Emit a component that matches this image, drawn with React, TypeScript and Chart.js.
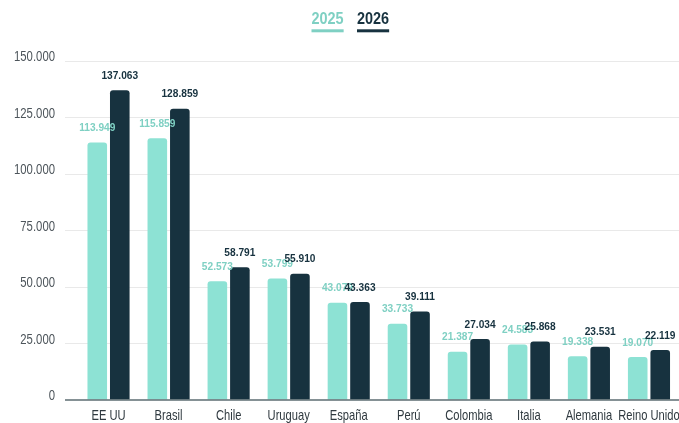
import React, { useEffect, useRef } from "react";
import { Chart, registerables } from "chart.js";

Chart.register(...registerables);

const categories = ["EE UU", "Brasil", "Chile", "Uruguay", "España", "Perú", "Colombia", "Italia", "Alemania", "Reino Unido"];
const values2025 = [113949, 115859, 52573, 53799, 43079, 33733, 21387, 24583, 19338, 19070];
const values2026 = [137063, 128859, 58791, 55910, 43363, 39111, 27034, 25868, 23531, 22119];
const seriesNames = ["2025", "2026"];
const yTicks = [0, 25000, 50000, 75000, 100000, 125000, 150000];

const TEAL = "#8de2d4";
const TEAL_TEXT = "#7fd0c3";
const NAVY = "#17323f";
const FONT = "'Liberation Sans', Arial, sans-serif";

const fmt = (v: number) => String(Math.round(v)).replace(/\B(?=(\d{3})+(?!\d))/g, ".");

function drawText(ctx: any, text: string, x: number, y: number, font: string, color: string, align: string, sx: number) {
  ctx.save();
  ctx.font = font;
  ctx.fillStyle = color;
  ctx.textBaseline = "middle";
  ctx.textAlign = align;
  ctx.translate(x, y);
  ctx.scale(sx, 1);
  ctx.fillText(text, 0, 0);
  ctx.restore();
}

const textPlugin = {
  id: "customText",
  afterDraw(chart: any) {
    const ctx = chart.ctx;
    const xs = chart.scales.x;
    const ys = chart.scales.y;
    const area = chart.chartArea;

    // baseline axis line
    ctx.save();
    ctx.strokeStyle = "#5d6c72";
    ctx.lineWidth = 1.3;
    ctx.beginPath();
    const y0 = ys.getPixelForValue(0);
    ctx.moveTo(65, y0);
    ctx.lineTo(area.right, y0);
    ctx.stroke();
    ctx.restore();

    // y tick labels
    yTicks.forEach((v) => {
      drawText(ctx, fmt(v), 55, ys.getPixelForValue(v) - 3.5, `14px ${FONT}`, "#4d555b", "right", 0.81);
    });

    // x category labels
    categories.forEach((c, i) => {
      drawText(ctx, c, xs.getPixelForValue(i), 416, `14.5px ${FONT}`, "#2f393f", "center", 0.77);
    });

    // value labels
    chart.data.datasets.forEach((ds: any, di: number) => {
      const meta = chart.getDatasetMeta(di);
      meta.data.forEach((bar: any, i: number) => {
        drawText(ctx, fmt(ds.data[i]), bar.x, bar.y - 14.5, `bold 11.3px ${FONT}`, di === 0 ? TEAL_TEXT : NAVY, "center", 0.9);
      });
    });

    // legend
    const colors = [TEAL_TEXT, NAVY];
    const starts = [311.5, 357];
    seriesNames.forEach((name, i) => {
      ctx.save();
      ctx.font = `bold 17px ${FONT}`;
      const w = ctx.measureText(name).width * 0.85;
      ctx.restore();
      drawText(ctx, name, starts[i], 19.5, `bold 17px ${FONT}`, colors[i], "left", 0.85);
      ctx.save();
      ctx.fillStyle = colors[i];
      ctx.fillRect(starts[i], 29.3, w, 3);
      ctx.restore();
    });
  },
};

export default function App() {
  const ref = useRef<HTMLCanvasElement>(null);
  useEffect(() => {
    if (!ref.current) return;
    const chart = new Chart(ref.current, {
      type: "bar",
      data: {
        labels: categories,
        datasets: [
          { label: seriesNames[0], data: values2025, backgroundColor: TEAL, borderRadius: 3, borderSkipped: "bottom" },
          { label: seriesNames[1], data: values2026, backgroundColor: NAVY, borderRadius: 3, borderSkipped: "bottom" },
        ],
      },
      options: {
        responsive: false,
        animation: false,
        layout: { padding: { top: 61, left: 0, right: 0, bottom: 0 } },
        datasets: { bar: { categoryPercentage: 0.75, barPercentage: 0.87 } },
        plugins: { legend: { display: false }, tooltip: { enabled: false }, title: { display: false } },
        scales: {
          x: {
            grid: { display: false },
            border: { display: false },
            ticks: { display: false },
            afterFit: (s: any) => { s.height = 23; },
          },
          y: {
            min: 0,
            max: 150000,
            afterBuildTicks: (s: any) => { s.ticks = yTicks.map((v) => ({ value: v })); },
            grid: { color: (c: any) => (c.tick && c.tick.value === 0 ? "rgba(0,0,0,0)" : "#e9e9e9"), tickLength: 13.5, lineWidth: 1 },
            border: { display: false },
            ticks: { display: false },
            afterFit: (s: any) => { s.width = 78.5; },
          },
        },
      },
      plugins: [textPlugin],
    });
    return () => chart.destroy();
  }, []);
  return (
    <div style={{ position: "fixed", left: 0, top: 0, width: 679, height: 423, background: "#fff" }}>
      <canvas ref={ref} width={679} height={423} style={{ display: "block" }} />
    </div>
  );
}
